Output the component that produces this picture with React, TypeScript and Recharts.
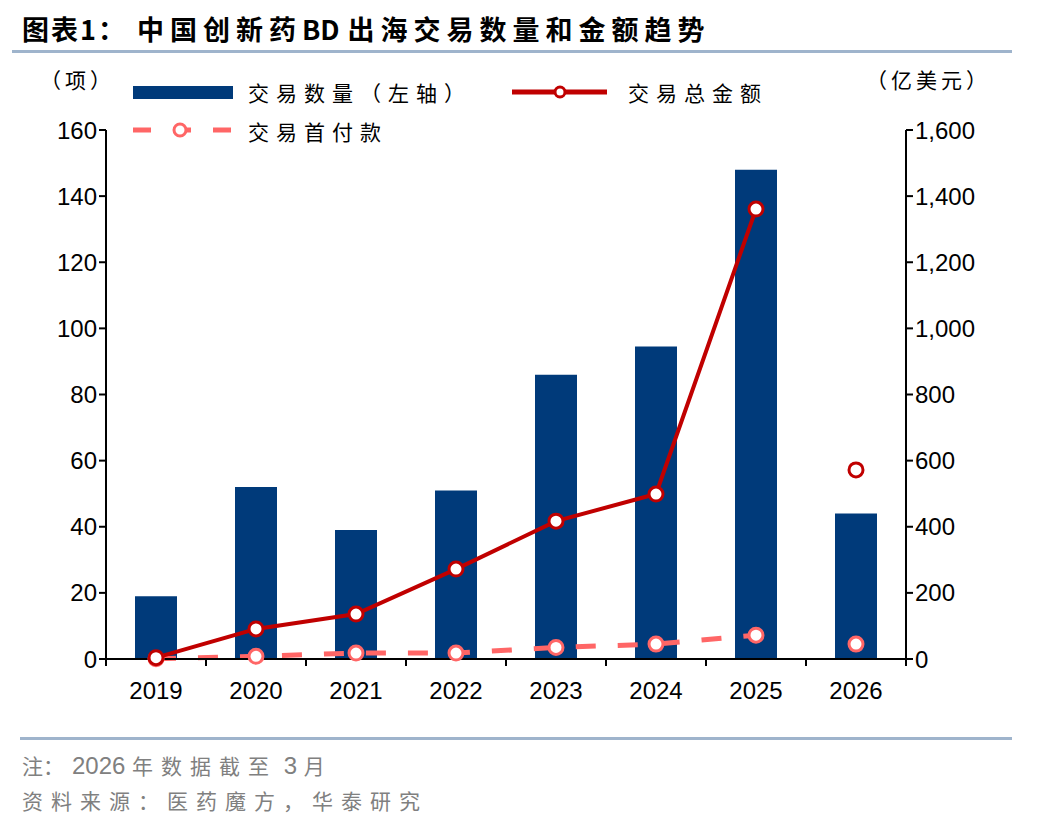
import React from 'react';
import { ComposedChart, Bar, Line, XAxis, YAxis } from 'recharts';

const years = ['2019', '2020', '2021', '2022', '2023', '2024', '2025', '2026'];
const dealCount = [19, 52, 39, 51, 86, 94.5, 148, 44];
const totalValue = [4, 91, 136, 272, 417, 499, 1361, null];
const totalValue2026 = [null, null, null, null, null, null, null, 572];
const upfront = [1, 8, 18, 18, 35, 45, 72, null];
const upfront2026 = [null, null, null, null, null, null, null, 45];
const leftTicks = [0, 20, 40, 60, 80, 100, 120, 140, 160];
const rightTicks = [0, 200, 400, 600, 800, 1000, 1200, 1400, 1600];

const NAVY = '#003A7A';
const RED = '#C00000';
const PINK = '#FF6666';
const GRAY = '#808080';
const FONT = '"Liberation Sans", Arial, sans-serif';
const CJK = '"Noto Sans CJK SC", sans-serif';

const data = years.map((y, i) => ({
  year: y,
  count: dealCount[i],
  total: totalValue[i],
  total26: totalValue2026[i],
  upfront: upfront[i],
  upfront26: upfront2026[i],
}));

const HALF_BAND = 50;

function YearTick(props: any) {
  const { x, y, payload, index } = props;
  return (
    <g>
      <line x1={x - HALF_BAND} x2={x - HALF_BAND} y1={y - 8} y2={y - 1} stroke="#000" strokeWidth={2} />
      {index === years.length - 1 && (
        <line x1={x + HALF_BAND} x2={x + HALF_BAND} y1={y - 8} y2={y - 1} stroke="#000" strokeWidth={2} />
      )}
      <text x={x} y={y + 32} textAnchor="middle" fontSize={24} fontFamily={FONT} fill="#000">
        {payload.value}
      </text>
    </g>
  );
}

const dot = (color: string) => ({ r: 7, fill: '#fff', stroke: color, strokeWidth: 3, strokeDasharray: 'none' });

const legendText = { position: 'absolute' as const, fontFamily: CJK, fontSize: 21, letterSpacing: 7, color: '#000', whiteSpace: 'nowrap' as const };
const noteText = { position: 'absolute' as const, left: 22, fontFamily: CJK, fontSize: 21, color: GRAY, letterSpacing: 8, whiteSpace: 'nowrap' as const };

export default function App() {
  return (
    <div style={{ position: 'fixed', left: 0, top: 0, width: 1048, height: 828, background: '#fff', overflow: 'hidden' }}>
      <div style={{ position: 'absolute', left: 22, top: 9, fontFamily: CJK, fontWeight: 700, fontSize: 27, color: '#000', whiteSpace: 'nowrap' }}>
        <span style={{ letterSpacing: 2 }}>图表1：</span>
        <span style={{ marginLeft: 10, letterSpacing: 6 }}>中国创新药</span>
        <span style={{ letterSpacing: 0, marginRight: 8 }}>BD</span>
        <span style={{ letterSpacing: 6 }}>出海交易数量和金额趋势</span>
      </div>
      <div style={{ position: 'absolute', left: 12, top: 50, width: 1000, height: 3, background: '#9FB4CC' }} />

      <div style={{ ...legendText, left: 40, top: 64, letterSpacing: 4 }}>（项）</div>
      <div style={{ ...legendText, left: 866, top: 64, letterSpacing: 4 }}>（亿美元）</div>

      <svg style={{ position: 'absolute', left: 0, top: 0 }} width={1048} height={160}>
        <rect x={133} y={86} width={100} height={13} fill={NAVY} />
        <line x1={512} x2={607} y1={92} y2={92} stroke={RED} strokeWidth={5} />
        <circle cx={560} cy={92} r={5} fill="#fff" stroke={RED} strokeWidth={3} />
        <line x1={133} x2={233} y1={130} y2={130} stroke={PINK} strokeWidth={5} strokeDasharray="18 22" />
        <circle cx={180} cy={130} r={6} fill="#fff" stroke={PINK} strokeWidth={3} />
      </svg>
      <div style={{ ...legendText, left: 248, top: 77 }}>交易数量（左轴）</div>
      <div style={{ ...legendText, left: 628, top: 77 }}>交易总金额</div>
      <div style={{ ...legendText, left: 248, top: 116 }}>交易首付款</div>

      <div style={{ position: 'absolute', left: 0, top: 0 }}>
        <ComposedChart width={1048} height={828} data={data} margin={{ top: 130, right: 62, bottom: 129, left: 46 }}>
          <XAxis
            dataKey="year"
            axisLine={{ stroke: '#000', strokeWidth: 2 }}
            tickLine={false}
            tick={<YearTick />}
            height={40}
            interval={0}
          />
          <YAxis
            yAxisId="left"
            domain={[0, 160]}
            ticks={leftTicks}
            width={60}
            axisLine={{ stroke: '#000', strokeWidth: 2 }}
            tickLine={{ stroke: '#000', strokeWidth: 2 }}
            tickSize={7}
            tick={{ fontSize: 24, fontFamily: FONT, fill: '#000' }}
          />
          <YAxis
            yAxisId="right"
            orientation="right"
            domain={[0, 1600]}
            ticks={rightTicks}
            width={80}
            axisLine={{ stroke: '#000', strokeWidth: 2 }}
            tickLine={{ stroke: '#000', strokeWidth: 2 }}
            tickSize={7}
            tickFormatter={(v: number) => v.toLocaleString('en-US')}
            tick={{ fontSize: 24, fontFamily: FONT, fill: '#000' }}
          />
          <Bar yAxisId="left" dataKey="count" fill={NAVY} barSize={42} isAnimationActive={false} />
          <Line yAxisId="right" dataKey="upfront" stroke={PINK} strokeWidth={5} strokeDasharray="20 22" dot={dot(PINK)} activeDot={false} isAnimationActive={false} />
          <Line yAxisId="right" dataKey="upfront26" stroke={PINK} strokeWidth={0} dot={dot(PINK)} activeDot={false} isAnimationActive={false} />
          <Line yAxisId="right" dataKey="total" stroke={RED} strokeWidth={4} dot={dot(RED)} activeDot={false} isAnimationActive={false} />
          <Line yAxisId="right" dataKey="total26" stroke={RED} strokeWidth={0} dot={dot(RED)} activeDot={false} isAnimationActive={false} />
        </ComposedChart>
      </div>

      <div style={{ position: 'absolute', left: 20, top: 737, width: 992, height: 3, background: '#9FB4CC' }} />
      <div style={{ ...noteText, top: 750 }}>
        <span style={{ letterSpacing: 0, marginRight: 8 }}>注：</span>
        <span style={{ fontFamily: FONT, fontSize: 24, letterSpacing: 0 }}>2026 </span>年数据截至<span style={{ fontFamily: FONT, fontSize: 24, letterSpacing: 0 }}> 3 </span>月
      </div>
      <div style={{ ...noteText, top: 785 }}>资料来源：医药魔方，华泰研究</div>
    </div>
  );
}
